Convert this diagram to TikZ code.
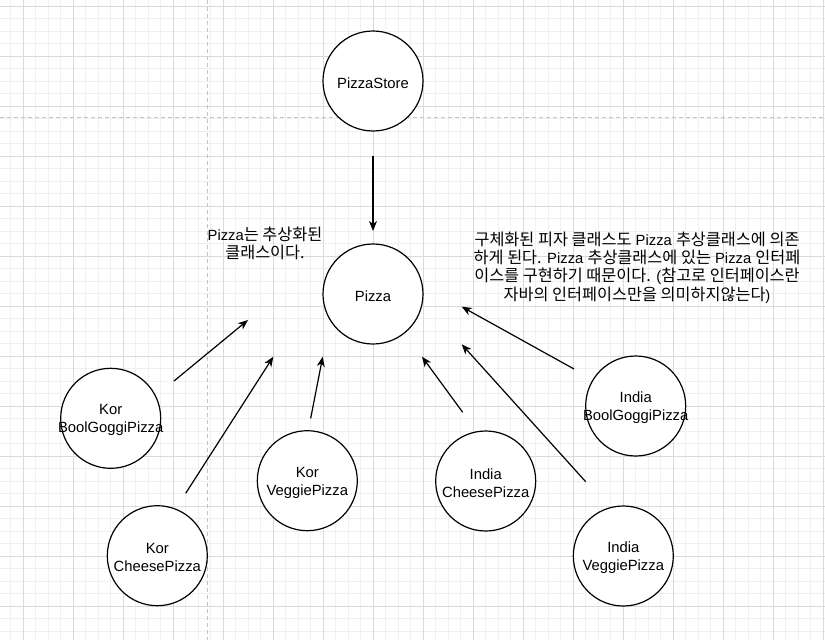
\documentclass[tikz,border=0pt]{standalone}
\usepackage{fontspec}
\setmainfont{Liberation Sans}
\newfontfamily\kr[Scale=1.1]{Noto Sans CJK KR}
\usetikzlibrary{arrows.meta}
\definecolor{minorc}{HTML}{F0F0F0}
\definecolor{majorc}{HTML}{DADADA}
\definecolor{dashc}{HTML}{C4C4C4}
\begin{document}
\begin{tikzpicture}[x=1pt,y=-1pt,
  minorgrid/.style={draw=minorc,line width=0.9pt},
  majorgrid/.style={draw=majorc,line width=0.9pt},
  guide/.style={draw=dashc,line width=1pt,dash pattern=on 4pt off 3pt},
  cls/.style={circle,draw=black,line width=1.2pt,minimum size=100pt,inner sep=0pt,fill=white},
  lbl/.style={align=center,font=\fontsize{14.8}{18}\selectfont,text=black,inner sep=0pt},
  clbl/.style={lbl,yshift=-2pt},
  dep/.style={line width=1.2pt,-{Stealth[length=10pt,width=8pt,inset=3pt]}}]
\useasboundingbox (0,0) rectangle (825,640);
\fill[white] (0,0) rectangle (825,640);
% grid
\foreach \k in {0,...,65} {\draw[minorgrid] ({10.8+12.5*\k},0) -- ++(0,640);}
\foreach \k in {0,...,50} {\draw[minorgrid] (0,{6+12.5*\k}) -- ++(825,0);}
\foreach \k in {0,...,16} {\draw[majorgrid] ({23.3+50*\k},0) -- ++(0,640);}
\foreach \k in {0,...,12} {\draw[majorgrid] (0,{6+50*\k}) -- ++(825,0);}
\draw[guide] (207.3,0) -- (207.3,640);
\draw[guide] (0,117.3) -- (825,117.3);
% classes
\node[cls,label={[clbl]center:PizzaStore}] (store) at (373,81) {};
\node[cls,label={[clbl]center:Pizza}] (pizza) at (373,294) {};
\node[cls,label={[clbl]center:Kor\\BoolGoggiPizza}] (kb) at (110.7,418.3) {};
\node[cls,label={[clbl]center:Kor\\CheesePizza}] (kc) at (157.3,555.7) {};
\node[cls,label={[clbl]center:Kor\\VeggiePizza}] (kv) at (307.3,480.7) {};
\node[cls,label={[clbl]center:India\\CheesePizza}] (ic) at (485.7,481) {};
\node[cls,label={[clbl]center:India\\BoolGoggiPizza}] (ib) at (635.7,406) {};
\node[cls,label={[clbl]center:India\\VeggiePizza}] (iv) at (623.3,556) {};
% notes
\node[lbl] (note1) at (265,243.5) {Pizza{\kr 는 추상화된}\\{\kr 클래스이다.}};
\node[lbl,font=\fontsize{14.8}{18.4}\selectfont] (note2) at (637,267.5) {{\kr 구체화된 피자 클래스도} Pizza {\kr 추상클래스에 의존}\\{\kr 하게 된다.} Pizza {\kr 추상클래스에 있는} Pizza {\kr 인터페}\\{\kr 이스를 구현하기 때문이다.} ({\kr 참고로 인터페이스란}\\{\kr 자바의 인터페이스만을 의미하지않는다})};
% arrow endpoints
\coordinate (s0) at (373,156);   \coordinate (s1) at (373,231);
\coordinate (a0) at (174,381);   \coordinate (a1) at (248,320);
\coordinate (b0) at (185.7,493.3); \coordinate (b1) at (273.3,356.7);
\coordinate (c0) at (310.7,418.3); \coordinate (c1) at (322.7,356.7);
\coordinate (d0) at (462.7,412.3); \coordinate (d1) at (422,356.7);
\coordinate (e0) at (585.7,481.7); \coordinate (e1) at (461.7,344.3);
\coordinate (f0) at (574,369);   \coordinate (f1) at (461.7,306.7);
\draw[dep] (s0) -- (s1);
\draw[dep] (a0) -- (a1);
\draw[dep] (b0) -- (b1);
\draw[dep] (c0) -- (c1);
\draw[dep] (d0) -- (d1);
\draw[dep] (e0) -- (e1);
\draw[dep] (f0) -- (f1);
\end{tikzpicture}
\end{document}
